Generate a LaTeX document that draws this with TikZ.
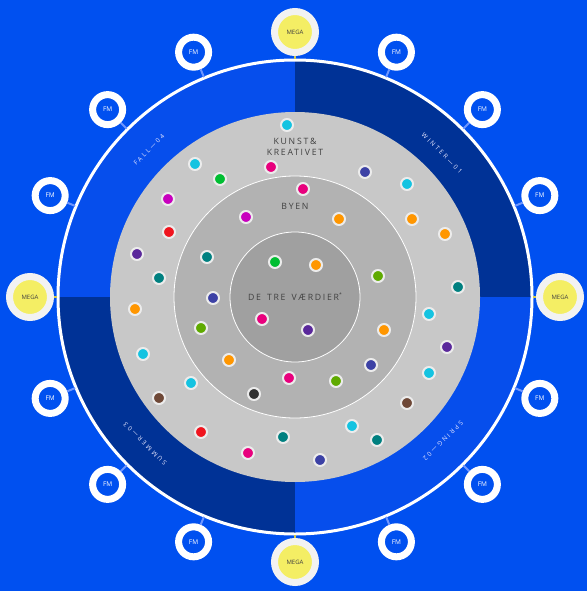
\documentclass[tikz,border=0pt]{standalone}
\usepackage{fontspec}
\setsansfont{Open Sans}
\newfontfamily\spaced[LetterSpace=20]{Open Sans}
\newfontfamily\wide[LetterSpace=35]{Open Sans}
\usepackage{xcolor}
\usepackage{tikz}
\usetikzlibrary{calc,positioning}

\definecolor{bgblue}{RGB}{0,80,240}
\definecolor{quadblue}{RGB}{6,78,236}
\definecolor{darkblue}{RGB}{0,50,150}
\definecolor{megayellow}{RGB}{244,238,100}
\definecolor{stubblue}{RGB}{110,150,255}
\definecolor{ringgray}{RGB}{200,200,200}
\definecolor{midgray}{RGB}{178,178,178}
\definecolor{coregray}{RGB}{160,160,160}
\definecolor{dcyan}{RGB}{20,195,225}
\definecolor{dpink}{RGB}{232,0,125}
\definecolor{dgreen}{RGB}{0,190,50}
\definecolor{dindigo}{RGB}{60,65,165}
\definecolor{dmagenta}{RGB}{200,0,190}
\definecolor{dorange}{RGB}{255,150,0}
\definecolor{dred}{RGB}{240,20,30}
\definecolor{dpurple}{RGB}{90,40,155}
\definecolor{dteal}{RGB}{0,128,128}
\definecolor{dlime}{RGB}{95,170,0}
\definecolor{dbrown}{RGB}{110,72,55}
\definecolor{ddark}{RGB}{50,50,50}

\begin{document}
\begin{tikzpicture}[x=1pt, y=-1pt,
  fm/.style={circle, draw=white, line width=7pt, fill=bgblue, minimum size=30pt, inner sep=0pt, text=white, font=\sffamily\fontsize{6.5}{7}\selectfont},
  mega/.style={circle, draw=white!90!gray, line width=7pt, fill=megayellow, minimum size=41pt, inner sep=0pt, text=black!75, font=\sffamily\fontsize{6}{7}\selectfont},
  dot/.style={circle, draw=white!85!gray, line width=2pt, minimum size=12pt, inner sep=0pt},
  ringlabel/.style={text=white!90!blue, font=\wide\fontsize{6.3}{7}\selectfont, inner sep=1pt},
  zonelabel/.style={text=black!75, font=\spaced\fontsize{8.7}{10.5}\selectfont, align=center, inner sep=1pt},
  stub/.style={draw=stubblue, line width=2pt},
  megastub/.style={draw=megayellow!85!black, line width=2pt}]

  \fill[bgblue] (0,0) rectangle (587,591);
  \useasboundingbox (0,0) rectangle (587,591);
  \coordinate (c) at (295,297);

  % season quadrants
  \begin{scope}
    \clip (c) circle (237pt);
    \fill[quadblue] (c) circle (237pt);
    \fill[darkblue] (c) rectangle ++(245,-245);
    \fill[darkblue] (c) rectangle ++(-245,245);
  \end{scope}
  \draw[white, line width=3pt] (c) circle (237pt);

  % the three zones
  \fill[ringgray] (c) circle (185pt);
  \filldraw[fill=midgray, draw=white, line width=0.8pt] (c) circle (121pt);
  \filldraw[fill=coregray, draw=white, line width=0.8pt] (c) circle (65pt);

  \node[ringlabel, rotate=45] (fall) at (149,150) {FALL—04};
  \node[ringlabel, rotate=-45] (winter) at (442,153) {WINTER—01};
  \node[ringlabel, rotate=225] (spring) at (443,441) {SPRING—02};
  \node[ringlabel, rotate=135] (summer) at (145,444) {SUMMER—03};

  \node[zonelabel] (kunst) at (295,147) {KUNST\&\\KREATIVET};
  \node[zonelabel] (byen) at (295,206) {BYEN};
  \node[zonelabel] (vaerdi) at (295,297) {DE\hspace{2pt} TRE\hspace{2pt} VÆRDIER\raisebox{4pt}{\fontsize{5}{5}\selectfont*}};

  % satellites
  \foreach \a [count=\i] in {22.5,45,67.5,112.5,135,157.5,202.5,225,247.5,292.5,315,337.5} {
    \coordinate (fmr\i) at ($(c)+(\a:238pt)$);
    \node[fm] (fm\i) at ($(c)+(\a:265pt)$) {FM};
    \draw[stub] (fm\i) -- (fmr\i);
  }
  \foreach \a [count=\i] in {0,90,180,270} {
    \coordinate (megar\i) at ($(c)+(\a:238pt)$);
    \node[mega] (mega\i) at ($(c)+(\a:265pt)$) {MEGA};
    \draw[megastub] (mega\i) -- (megar\i);
  }

  % dots
  \foreach \x/\y/\col [count=\i] in {
    287/125/dcyan, 195/164/dcyan, 271/167/dpink, 220/179/dgreen, 365/172/dindigo,
    407/184/dcyan, 168/199/dmagenta, 412/219/dorange, 445/234/dorange, 169/232/dred,
    137/254/dpurple, 159/278/dteal, 458/287/dteal, 135/309/dorange, 429/314/dcyan,
    447/347/dpurple, 143/354/dcyan, 429/373/dcyan, 191/383/dcyan, 159/398/dbrown,
    407/403/dbrown, 201/432/dred, 352/426/dcyan, 377/440/dteal, 283/437/dteal,
    248/453/dpink, 320/460/dindigo,
    303/189/dpink, 246/217/dmagenta, 339/219/dorange, 207/257/dteal, 378/276/dlime,
    213/298/dindigo, 201/328/dlime, 384/330/dorange, 229/360/dorange, 371/365/dindigo,
    289/378/dpink, 254/394/ddark, 336/381/dlime,
    275/262/dgreen, 316/265/dorange, 262/319/dpink, 308/330/dpurple} {
    \node[dot, fill=\col] (d\i) at (\x,\y) {};
  }
\end{tikzpicture}
\end{document}
